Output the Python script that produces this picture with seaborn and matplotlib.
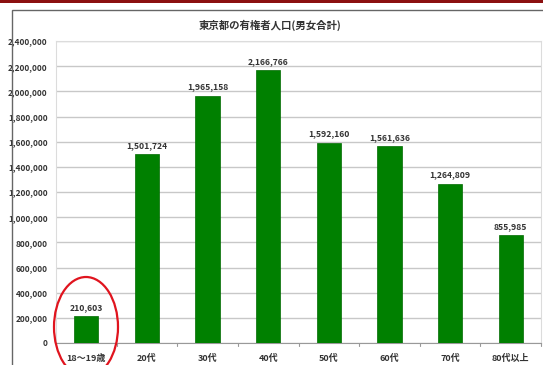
import matplotlib
matplotlib.use("Agg")
import matplotlib.pyplot as plt
import seaborn as sns
import pandas as pd
from matplotlib.patches import Ellipse, Rectangle
from matplotlib.ticker import FuncFormatter, MultipleLocator

categories = ["18～19歳", "20代", "30代", "40代", "50代", "60代", "70代", "80代以上"]
values = [210603, 1501724, 1965158, 2166766, 1592160, 1561636, 1264809, 855985]
title = "東京都の有権者人口(男女合計)"

sns.set_theme(style="white")
plt.rcParams['font.family'] = ['Liberation Sans Narrow', 'Noto Sans CJK JP', 'DejaVu Sans']

df = pd.DataFrame({"cat": categories, "val": values})

fig = plt.figure(figsize=(5.43, 3.65), dpi=100)
ax = fig.add_axes([56/543, 1 - 343/365, (541-56)/543, (343-41)/365])

sns.barplot(data=df, x="cat", y="val", color="#008000", width=0.4, ax=ax,
            saturation=1, edgecolor="#006a00", linewidth=0.5, zorder=3)

ax.set_ylim(0, 2400000)
ax.yaxis.set_major_locator(MultipleLocator(200000))
ax.yaxis.set_major_formatter(FuncFormatter(lambda v, p: f"{int(v):,}"))
ax.grid(axis="y", color="#c8c8c8", linewidth=1, zorder=0)
ax.set_xlabel("")
ax.set_ylabel("")
ax.tick_params(axis="y", labelsize=6, colors="#333333", length=0, pad=6)
ax.tick_params(axis="x", labelsize=6.5, colors="#333333", length=0, pad=8)
for lab in ax.get_xticklabels() + ax.get_yticklabels():
    lab.set_fontweight("bold")
ax.set_xlim(-0.5, len(categories) - 0.5)
for s in ["top", "right", "left"]:
    ax.spines[s].set_color("#dcdcdc")
    ax.spines[s].set_linewidth(0.8)
ax.spines["bottom"].set_color("#999999")
ax.spines["bottom"].set_linewidth(0.8)

# small tick marks between categories
for i in range(len(categories) + 1):
    ax.plot([i - 0.5, i - 0.5], [0, -25000], color="#999999", lw=0.8, clip_on=False)

for i, v in enumerate(values):
    ax.text(i, v + 35000, f"{v:,}", ha="center", va="bottom", fontsize=6.2,
            color="#333333", fontweight="bold")

fig.text(270/543, 1 - 25/365, title, ha="center", va="center", fontsize=7.5,
         fontweight="bold", color="#333333")

# red ellipse around first bar
ell = Ellipse((86/543, 1 - 327/365), 64/543, 100/365, transform=fig.transFigure,
              fill=False, edgecolor="#e0141e", linewidth=1.6, clip_on=False)
fig.patches.append(ell)

# outer frame and top band
fig.patches.append(Rectangle((12/543, -0.1), 0.99, 1 - 10/365 + 0.1, transform=fig.transFigure,
                             fill=False, edgecolor="#666666", linewidth=1.0))
fig.patches.append(Rectangle((0, 1 - 3/365), 1, 3/365, transform=fig.transFigure,
                             facecolor="#8b1010", edgecolor="none"))

fig.savefig("out.png", dpi=100)
